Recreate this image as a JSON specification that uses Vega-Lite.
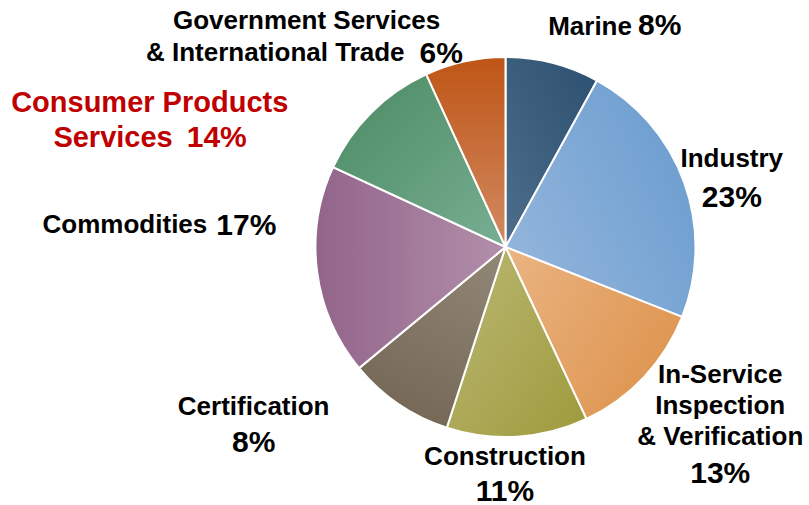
{
  "$schema": "https://vega.github.io/schema/vega-lite/v6.json",
  "width": 607,
  "height": 494,
  "autosize": {"type": "none"},
  "padding": {"left": 202, "top": 0, "right": 0, "bottom": 11},
  "background": "white",
  "config": {"view": {"stroke": null}},
  "data": {"values": [
    {"k": "Marine", "name": "Marine", "value": 8.0, "pct": 0.08, "order": 1},
    {"k": "Industry", "name": "Industry", "value": 23.0, "pct": 0.23, "order": 2},
    {"k": "InService", "name": ["In-Service", "Inspection", "& Verification"], "value": 12.0, "pct": 0.13, "order": 3},
    {"k": "Construction", "name": "Construction", "value": 12.0, "pct": 0.11, "order": 4},
    {"k": "Certification", "name": "Certification", "value": 9.0, "pct": 0.08, "order": 5},
    {"k": "Commodities", "name": "Commodities", "value": 17.9, "pct": 0.17, "order": 6},
    {"k": "Consumer", "name": ["Consumer Products", "Services"], "value": 11.25, "pct": 0.14, "order": 7},
    {"k": "Government", "name": ["Government Services", "& International Trade"], "value": 6.85, "pct": 0.06, "order": 8}
  ]},
  "encoding": {
    "theta": {"field": "value", "type": "quantitative", "stack": true},
    "order": {"field": "order", "type": "quantitative"}
  },
  "layer": [
    {
      "mark": {"type": "arc", "outerRadius": 190, "stroke": "white", "strokeWidth": 2},
      "encoding": {
        "detail": {"field": "k"},
        "fill": {
          "condition": [
            {"test": "datum.k === 'Marine'", "value": {"gradient": "linear", "x1": 0, "y1": 1, "x2": 1, "y2": 0, "stops": [{"offset": 0, "color": "#4D6D8B"}, {"offset": 1, "color": "#2C5070"}]}},
            {"test": "datum.k === 'Industry'", "value": {"gradient": "linear", "x1": 0, "y1": 0.8, "x2": 1, "y2": 0.2, "stops": [{"offset": 0, "color": "#94B6DC"}, {"offset": 1, "color": "#6A9CCF"}]}},
            {"test": "datum.k === 'InService'", "value": {"gradient": "linear", "x1": 0, "y1": 0, "x2": 1, "y2": 0.6, "stops": [{"offset": 0, "color": "#EAB482"}, {"offset": 1, "color": "#DE9550"}]}},
            {"test": "datum.k === 'Construction'", "value": {"gradient": "linear", "x1": 0, "y1": 0, "x2": 1, "y2": 1, "stops": [{"offset": 0, "color": "#BBB874"}, {"offset": 1, "color": "#9E9A3C"}]}},
            {"test": "datum.k === 'Certification'", "value": {"gradient": "linear", "x1": 0.7, "y1": 0, "x2": 0.3, "y2": 1, "stops": [{"offset": 0, "color": "#908474"}, {"offset": 1, "color": "#736655"}]}},
            {"test": "datum.k === 'Commodities'", "value": {"gradient": "linear", "x1": 1, "y1": 0.5, "x2": 0, "y2": 0.5, "stops": [{"offset": 0, "color": "#B28FAA"}, {"offset": 1, "color": "#92648A"}]}},
            {"test": "datum.k === 'Consumer'", "value": {"gradient": "linear", "x1": 1, "y1": 1, "x2": 0, "y2": 0, "stops": [{"offset": 0, "color": "#78AE92"}, {"offset": 1, "color": "#4A8A62"}]}},
            {"test": "datum.k === 'Government'", "value": {"gradient": "linear", "x1": 0.5, "y1": 1, "x2": 0.5, "y2": 0, "stops": [{"offset": 0, "color": "#D28A62"}, {"offset": 1, "color": "#BE5516"}]}}
          ],
          "value": "#999999"
        }
      }
    },
    {
      "mark": {"type": "text", "radius": 215, "align": "right", "baseline": "alphabetic", "dx": 73, "dy": -4, "fontSize": 26, "fontWeight": "bold", "font": "Liberation Sans", "color": "#000000"},
      "encoding": {"text": {"condition": {"test": "datum.k === 'Marine'", "field": "name"}, "value": ""}}
    },
    {
      "mark": {"type": "text", "radius": 215, "align": "left", "baseline": "alphabetic", "dx": 79, "dy": -4, "fontSize": 30, "fontWeight": "bold", "font": "Liberation Sans", "color": "#000000"},
      "encoding": {"text": {"condition": {"test": "datum.k === 'Marine'", "field": "pct", "type": "quantitative", "format": ".0%"}, "value": ""}}
    },
    {
      "mark": {"type": "text", "radius": 215, "align": "center", "baseline": "alphabetic", "dx": 24, "dy": -7, "fontSize": 26, "fontWeight": "bold", "font": "Liberation Sans", "color": "#000000"},
      "encoding": {"text": {"condition": {"test": "datum.k === 'Industry'", "field": "name"}, "value": ""}}
    },
    {
      "mark": {"type": "text", "radius": 215, "align": "center", "baseline": "alphabetic", "dx": 24, "dy": 33, "fontSize": 30, "fontWeight": "bold", "font": "Liberation Sans", "color": "#000000"},
      "encoding": {"text": {"condition": {"test": "datum.k === 'Industry'", "field": "pct", "type": "quantitative", "format": ".0%"}, "value": ""}}
    },
    {
      "mark": {"type": "text", "radius": 215, "align": "center", "baseline": "alphabetic", "dx": 58, "dy": -11, "lineHeight": 31, "fontSize": 26, "fontWeight": "bold", "font": "Liberation Sans", "color": "#000000"},
      "encoding": {"text": {"condition": {"test": "datum.k === 'InService'", "field": "name"}, "value": ""}}
    },
    {
      "mark": {"type": "text", "radius": 215, "align": "center", "baseline": "alphabetic", "dx": 58, "dy": 89, "fontSize": 30, "fontWeight": "bold", "font": "Liberation Sans", "color": "#000000"},
      "encoding": {"text": {"condition": {"test": "datum.k === 'InService'", "field": "pct", "type": "quantitative", "format": ".0%"}, "value": ""}}
    },
    {
      "mark": {"type": "text", "radius": 215, "align": "center", "baseline": "alphabetic", "dx": -14, "dy": 3, "fontSize": 26, "fontWeight": "bold", "font": "Liberation Sans", "color": "#000000"},
      "encoding": {"text": {"condition": {"test": "datum.k === 'Construction'", "field": "name"}, "value": ""}}
    },
    {
      "mark": {"type": "text", "radius": 215, "align": "center", "baseline": "alphabetic", "dx": -14, "dy": 39, "fontSize": 30, "fontWeight": "bold", "font": "Liberation Sans", "color": "#000000"},
      "encoding": {"text": {"condition": {"test": "datum.k === 'Construction'", "field": "pct", "type": "quantitative", "format": ".0%"}, "value": ""}}
    },
    {
      "mark": {"type": "text", "radius": 215, "align": "center", "baseline": "alphabetic", "dx": -131, "dy": -10, "fontSize": 26, "fontWeight": "bold", "font": "Liberation Sans", "color": "#000000"},
      "encoding": {"text": {"condition": {"test": "datum.k === 'Certification'", "field": "name"}, "value": ""}}
    },
    {
      "mark": {"type": "text", "radius": 215, "align": "center", "baseline": "alphabetic", "dx": -131, "dy": 27, "fontSize": 30, "fontWeight": "bold", "font": "Liberation Sans", "color": "#000000"},
      "encoding": {"text": {"condition": {"test": "datum.k === 'Certification'", "field": "pct", "type": "quantitative", "format": ".0%"}, "value": ""}}
    },
    {
      "mark": {"type": "text", "radius": 215, "align": "right", "baseline": "alphabetic", "dx": -85, "dy": -42, "fontSize": 26, "fontWeight": "bold", "font": "Liberation Sans", "color": "#000000"},
      "encoding": {"text": {"condition": {"test": "datum.k === 'Commodities'", "field": "name"}, "value": ""}}
    },
    {
      "mark": {"type": "text", "radius": 215, "align": "left", "baseline": "alphabetic", "dx": -76, "dy": -40, "fontSize": 30, "fontWeight": "bold", "font": "Liberation Sans", "color": "#000000"},
      "encoding": {"text": {"condition": {"test": "datum.k === 'Commodities'", "field": "pct", "type": "quantitative", "format": ".0%"}, "value": ""}}
    },
    {
      "mark": {"type": "text", "radius": 215, "align": "center", "baseline": "alphabetic", "dx": -204, "dy": 17, "fontSize": 29, "fontWeight": "bold", "font": "Liberation Sans", "color": "#C00000"},
      "encoding": {"text": {"condition": {"test": "datum.k === 'Consumer'", "field": "name[0]"}, "value": ""}}
    },
    {
      "mark": {"type": "text", "radius": 215, "align": "right", "baseline": "alphabetic", "dx": -181, "dy": 52, "fontSize": 29, "fontWeight": "bold", "font": "Liberation Sans", "color": "#C00000"},
      "encoding": {"text": {"condition": {"test": "datum.k === 'Consumer'", "field": "name[1]"}, "value": ""}}
    },
    {
      "mark": {"type": "text", "radius": 215, "align": "left", "baseline": "alphabetic", "dx": -167, "dy": 52, "fontSize": 30, "fontWeight": "bold", "font": "Liberation Sans", "color": "#C00000"},
      "encoding": {"text": {"condition": {"test": "datum.k === 'Consumer'", "field": "pct", "type": "quantitative", "format": ".0%"}, "value": ""}}
    },
    {
      "mark": {"type": "text", "radius": 215, "align": "center", "baseline": "alphabetic", "dx": -153, "dy": -8, "fontSize": 26, "fontWeight": "bold", "font": "Liberation Sans", "color": "#000000"},
      "encoding": {"text": {"condition": {"test": "datum.k === 'Government'", "field": "name[0]"}, "value": ""}}
    },
    {
      "mark": {"type": "text", "radius": 215, "align": "right", "baseline": "alphabetic", "dx": -55, "dy": 24, "fontSize": 26, "fontWeight": "bold", "font": "Liberation Sans", "color": "#000000"},
      "encoding": {"text": {"condition": {"test": "datum.k === 'Government'", "field": "name[1]"}, "value": ""}}
    },
    {
      "mark": {"type": "text", "radius": 215, "align": "left", "baseline": "alphabetic", "dx": -40, "dy": 26, "fontSize": 30, "fontWeight": "bold", "font": "Liberation Sans", "color": "#000000"},
      "encoding": {"text": {"condition": {"test": "datum.k === 'Government'", "field": "pct", "type": "quantitative", "format": ".0%"}, "value": ""}}
    }
  ]
}
